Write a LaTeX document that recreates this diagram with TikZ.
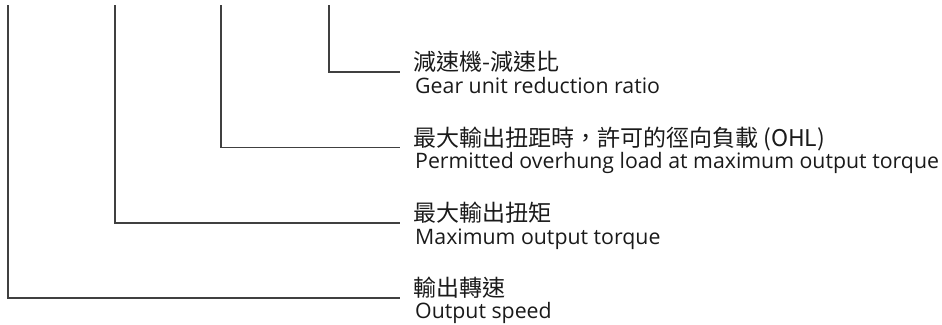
\documentclass[tikz,border=0pt]{standalone}
\usepackage{fontspec}
\setmainfont{Open Sans}
\newfontfamily\cjk{Noto Sans CJK TC}
\definecolor{linegray}{HTML}{404040}
\definecolor{textblack}{HTML}{1A1A1A}
\begin{document}
\begin{tikzpicture}[x=1pt,y=-1pt,
  conn/.style={draw=linegray, line width=1.5pt},
  zh/.style={anchor=base west, inner sep=0pt, text=textblack, font=\cjk\fontsize{23}{23}\selectfont},
  en/.style={anchor=base west, inner sep=0pt, text=textblack, font=\fontsize{21.3}{22}\selectfont}]
\useasboundingbox (0,0) rectangle (942,324);
% top ends of the vertical leaders
\coordinate (t1) at (329,5);
\coordinate (t2) at (221,5);
\coordinate (t3) at (115,5);
\coordinate (t4) at (8,5);
% right ends of the horizontal leaders
\coordinate (e1) at (400,72);
\coordinate (e2) at (400,147.5);
\coordinate (e3) at (400,223);
\coordinate (e4) at (400,298);
% labels
\node[zh] (z1) at (413,70.5) {減速機-減速比};
\node[en] (n1) at (415,93) {Gear unit reduction ratio};
\node[zh] (z2) at (413,146) {最大輸出扭距時，許可的徑向負載 (OHL)};
\node[en] (n2) at (415,168.5) {Permitted overhung load at maximum output torque};
\node[zh] (z3) at (413,221.5) {最大輸出扭矩};
\node[en] (n3) at (415,244) {Maximum output torque};
\node[zh] (z4) at (413,296.5) {輸出轉速};
\node[en] (n4) at (415,318.5) {Output speed};
% leaders
\draw[conn] (t1) |- (e1);
\draw[conn] (t2) |- (e2);
\draw[conn] (t3) |- (e3);
\draw[conn] (t4) |- (e4);
\end{tikzpicture}
\end{document}
